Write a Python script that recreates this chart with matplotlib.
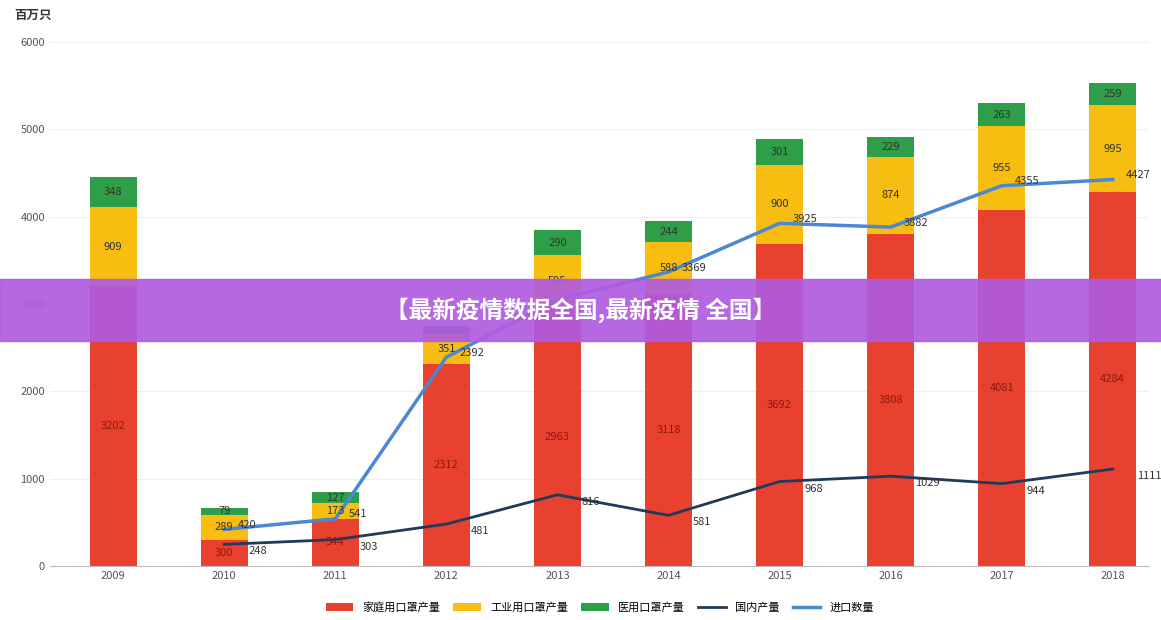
import matplotlib
matplotlib.use("Agg")
import matplotlib.pyplot as plt
import numpy as np
from matplotlib.patches import Rectangle

plt.rcParams['font.family'] = ['Noto Sans CJK SC', 'DejaVu Sans']

years = ['2009','2010','2011','2012','2013','2014','2015','2016','2017','2018']
household = [3202, 300, 544, 2312, 2963, 3118, 3692, 3808, 4081, 4284]
industrial = [909, 289, 173, 351, 595, 588, 900, 874, 955, 995]
medical = [348, 79, 127, 90, 290, 244, 301, 229, 263, 259]
domestic = [None, 248, 303, 481, 816, 581, 968, 1029, 944, 1111]
imports = [None, 420, 541, 2392, 3050, 3369, 3925, 3882, 4355, 4427]

fig = plt.figure(figsize=(11.61, 6.2), dpi=100)
ax = fig.add_axes([0.043, 0.087, 0.947, 0.845])
x = np.arange(len(years))
w = 0.42
h = np.array(household); i_ = np.array(industrial); m = np.array(medical)
b1 = ax.bar(x, h, w, color='#e8412f', label='家庭用口罩产量', zorder=2)
b2 = ax.bar(x, i_, w, bottom=h, color='#f7bd11', label='工业用口罩产量', zorder=2)
b3 = ax.bar(x, m, w, bottom=h+i_, color='#2f9e48', label='医用口罩产量', zorder=2)
xl = x[1:]
l1, = ax.plot(xl, domestic[1:], color='#1f3a5a', lw=2, label='国内产量', zorder=3)
l2, = ax.plot(xl, imports[1:], color='#4a88d4', lw=2.5, label='进口数量', zorder=3)

for k in range(len(x)):
    ax.text(x[k], h[k]/2, str(h[k]), ha='center', va='center', fontsize=8, color='#8a1a10', zorder=4)
    ax.text(x[k], h[k]+i_[k]/2, str(i_[k]), ha='center', va='center', fontsize=8, color='#333', zorder=4)
    if k != 3:
        ax.text(x[k], h[k]+i_[k]+m[k]/2, str(m[k]), ha='center', va='center', fontsize=8, color='#333', zorder=4)
for k in range(1, len(x)):
    ax.text(x[k]+0.22, domestic[k]-80, str(domestic[k]), ha='left', va='center', fontsize=8, color='#333', zorder=4)
    if k != 4:
        ax.text(x[k]+0.12, imports[k]+50, str(imports[k]), ha='left', va='center', fontsize=8, color='#333', zorder=4)

ax.set_xlim(-0.57, 9.33)
ax.set_ylim(0, 6000)
ax.set_yticks(range(0, 6001, 1000))
ax.set_xticks(x)
ax.set_xticklabels(years)
ax.tick_params(labelsize=8, colors='#555', length=0)
for s in ['top', 'right', 'left']:
    ax.spines[s].set_visible(False)
ax.spines['bottom'].set_color('#bbb')
ax.grid(axis='y', color='#eee', lw=0.8, zorder=0)
fig.text(0.012, 0.97, '百万只', fontsize=9, fontweight='bold', color='#333')
ax.legend([b1, b2, b3, l1, l2], ['家庭用口罩产量', '工业用口罩产量', '医用口罩产量', '国内产量', '进口数量'],
          loc='upper center', bbox_to_anchor=(0.5, -0.05), ncol=5, frameon=False, fontsize=8,
          handlelength=2.5, columnspacing=1.2)

fig.patches.append(Rectangle((0, 0.45), 1, 0.1, transform=fig.transFigure, color='#b05be0', alpha=0.92, zorder=10))
fig.text(0.5, 0.50, '【最新疫情数据全国,最新疫情 全国】', ha='center', va='center', fontsize=17,
         fontweight='bold', color='white', zorder=11)
fig.savefig('out.png')
